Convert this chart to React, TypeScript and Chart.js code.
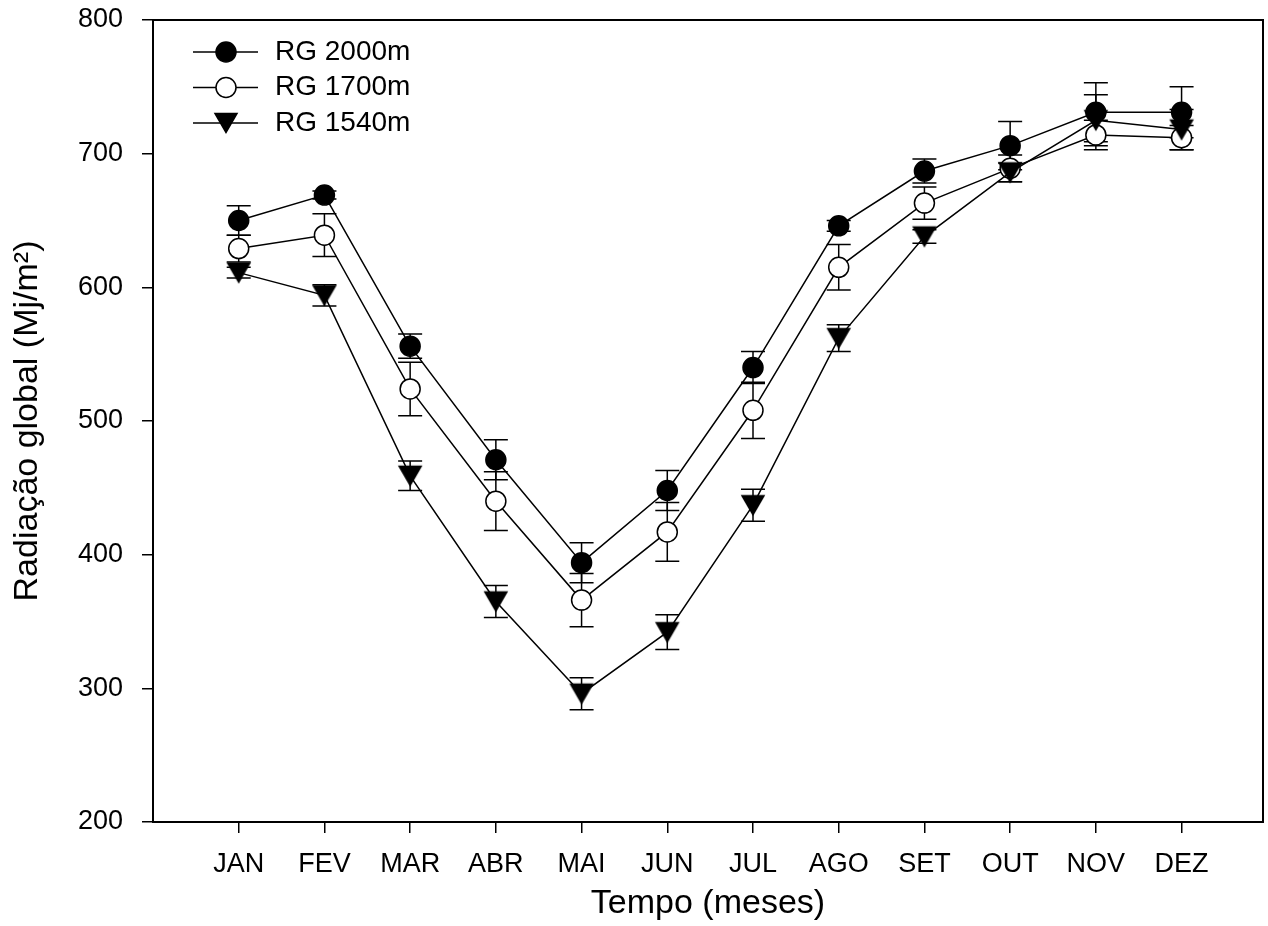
import React, { useEffect, useRef } from 'react';
import { Chart, registerables } from 'chart.js';

Chart.register(...registerables);

// ---------- data ----------
const categories = ['JAN', 'FEV', 'MAR', 'ABR', 'MAI', 'JUN', 'JUL', 'AGO', 'SET', 'OUT', 'NOV', 'DEZ'];
const seriesLabels = ['RG 2000m', 'RG 1700m', 'RG 1540m'];

const rg2000 = [650, 669, 556, 471, 394, 448, 540, 646, 687, 706, 731, 731];
const rg2000Err = [11, 3, 9, 15, 15, 15, 12, 4, 9, 18, 22, 19];

const rg1700 = [629, 639, 524, 440, 366, 417, 508, 615, 663, 689, 714, 712];
const rg1700Err = [10, 16, 20, 22, 20, 22, 21, 17, 12, 10, 11, 9];

const rg1540 = [611, 594, 459, 365, 296, 342, 437, 562, 638, 686, 725, 718];
const rg1540Err = [4, 8, 11, 12, 12, 13, 12, 10, 5, 7, 19, 15];

const yMin = 200;
const yMax = 800;
const yStep = 100;

const xTitle = 'Tempo (meses)';
const yTitle = 'Radiação global (Mj/m²)';

// ---------- styling ----------
const FONT = '"Liberation Sans", Arial, Helvetica, sans-serif';
const W = 1268;
const H = 926;

function makeTriangle(): HTMLCanvasElement {
  const c = document.createElement('canvas');
  c.width = 28;
  c.height = 28;
  const ctx = c.getContext('2d') as CanvasRenderingContext2D;
  const w = 22;
  const h = 19;
  const cx = 14;
  const cy = 14;
  ctx.beginPath();
  ctx.moveTo(cx - w / 2, cy - h / 2);
  ctx.lineTo(cx + w / 2, cy - h / 2);
  ctx.lineTo(cx, cy + h / 2);
  ctx.closePath();
  ctx.fillStyle = '#000';
  ctx.fill();
  ctx.lineWidth = 1.5;
  ctx.strokeStyle = '#000';
  ctx.stroke();
  return c;
}

export default function App() {
  const canvasRef = useRef<HTMLCanvasElement | null>(null);

  useEffect(() => {
    const canvas = canvasRef.current;
    if (!canvas) return;
    const tri = makeTriangle();
    const errorSets = [rg2000Err, rg1700Err, rg1540Err];
    const seriesValues = [rg2000, rg1700, rg1540];

    const toPoints = (vals: number[]) => vals.map((v, i) => ({ x: i + 1, y: v }));

    const errorBarPlugin = {
      id: 'errorBars',
      beforeDatasetsDraw(chart: any) {
        const { ctx } = chart;
        const xs = chart.scales.x;
        const ys = chart.scales.y;
        ctx.save();
        ctx.strokeStyle = '#000';
        ctx.lineWidth = 1.5;
        chart.data.datasets.forEach((ds: any, di: number) => {
          const errs = errorSets[di];
          ds.data.forEach((p: any, i: number) => {
            const x = xs.getPixelForValue(p.x);
            const yt = ys.getPixelForValue(p.y + errs[i]);
            const yb = ys.getPixelForValue(p.y - errs[i]);
            const cap = 12;
            ctx.beginPath();
            ctx.moveTo(x, yt);
            ctx.lineTo(x, yb);
            ctx.moveTo(x - cap, yt);
            ctx.lineTo(x + cap, yt);
            ctx.moveTo(x - cap, yb);
            ctx.lineTo(x + cap, yb);
            ctx.stroke();
          });
        });
        ctx.restore();
      },
    };

    const framePlugin = {
      id: 'frame',
      afterDraw(chart: any) {
        const { ctx, chartArea } = chart;
        ctx.save();
        ctx.strokeStyle = '#000';
        ctx.lineWidth = 2;
        ctx.strokeRect(chartArea.left, chartArea.top, chartArea.right - chartArea.left, chartArea.bottom - chartArea.top);
        ctx.restore();
      },
    };

    const legendPlugin = {
      id: 'insideLegend',
      afterDraw(chart: any) {
        const { ctx, chartArea } = chart;
        ctx.save();
        chart.data.datasets.forEach((ds: any, i: number) => {
          const y = chartArea.top + 32 + i * 35.5;
          const x0 = chartArea.left + 40;
          ctx.strokeStyle = '#000';
          ctx.lineWidth = 1.5;
          ctx.beginPath();
          ctx.moveTo(x0, y);
          ctx.lineTo(x0 + 65, y);
          ctx.stroke();
          const mx = x0 + 33;
          if (i === 2) {
            ctx.drawImage(tri, mx - tri.width / 2, y - tri.height / 2);
          } else {
            ctx.beginPath();
            ctx.arc(mx, y, 10, 0, Math.PI * 2);
            ctx.fillStyle = i === 0 ? '#000' : '#fff';
            ctx.fill();
            ctx.stroke();
          }
          ctx.fillStyle = '#000';
          ctx.font = `28px ${FONT}`;
          ctx.textBaseline = 'middle';
          ctx.textAlign = 'left';
          ctx.fillText(ds.label, chartArea.left + 122, y);
        });
        ctx.restore();
      },
    };

    const pointStyles: any[] = ['circle', 'circle', tri];
    const fills = ['#000', '#fff', '#000'];
    const orders = [3, 2, 1];

    const chart = new Chart(canvas, {
      type: 'line',
      data: {
        datasets: seriesLabels.map((label, i) => ({
          label,
          data: toPoints(seriesValues[i]),
          borderColor: '#000',
          borderWidth: 1.5,
          backgroundColor: fills[i],
          pointStyle: pointStyles[i],
          pointRadius: 10,
          pointHoverRadius: 10,
          pointBorderWidth: 1.5,
          pointBorderColor: '#000',
          pointBackgroundColor: fills[i],
          fill: false,
          tension: 0,
          order: orders[i],
        })),
      },
      options: {
        responsive: false,
        animation: false,
        devicePixelRatio: 1,
        layout: { autoPadding: false, padding: { top: 20, right: 5, left: 0, bottom: 0 } },
        plugins: {
          legend: { display: false },
          tooltip: { enabled: false },
          title: { display: false },
        },
        scales: {
          x: {
            type: 'linear',
            min: 0,
            max: 12.95,
            afterBuildTicks: (scale: any) => {
              scale.ticks = categories.map((_, i) => ({ value: i + 1 }));
            },
            afterFit: (scale: any) => {
              scale.height = 104;
              scale.paddingLeft = 0;
              scale.paddingRight = 0;
              scale.paddingTop = 0;
              scale.paddingBottom = 0;
            },
            ticks: {
              autoSkip: false,
              maxRotation: 0,
              minRotation: 0,
              padding: 15,
              color: '#000',
              font: { family: FONT, size: 27 },
              callback: (value: any) => categories[Number(value) - 1] ?? '',
            },
            grid: {
              drawOnChartArea: false,
              drawTicks: true,
              tickLength: 11,
              color: '#000',
              lineWidth: 1.5,
            },
            border: { display: false },
            title: {
              display: true,
              text: xTitle,
              color: '#000',
              font: { family: FONT, size: 34 },
              padding: { top: 0, bottom: 2 },
            },
          },
          y: {
            type: 'linear',
            min: yMin,
            max: yMax,
            afterFit: (scale: any) => {
              scale.width = 153;
              scale.paddingLeft = 0;
              scale.paddingRight = 0;
              scale.paddingTop = 0;
              scale.paddingBottom = 0;
            },
            ticks: {
              stepSize: yStep,
              padding: 19,
              color: '#000',
              font: { family: FONT, size: 27 },
            },
            grid: {
              drawOnChartArea: false,
              drawTicks: true,
              tickLength: 11,
              color: '#000',
              lineWidth: 1.5,
            },
            border: { display: false },
            title: {
              display: true,
              text: yTitle,
              color: '#000',
              font: { family: FONT, size: 34 },
              padding: { top: 7, bottom: 0 },
            },
          },
        },
      },
      plugins: [errorBarPlugin, framePlugin, legendPlugin],
    } as any);

    return () => {
      chart.destroy();
    };
  }, []);

  return (
    <div style={{ position: 'absolute', left: 0, top: 0, width: W, height: H, background: '#fff' }}>
      <canvas ref={canvasRef} width={W} height={H} style={{ width: W, height: H, display: 'block' }} />
    </div>
  );
}
